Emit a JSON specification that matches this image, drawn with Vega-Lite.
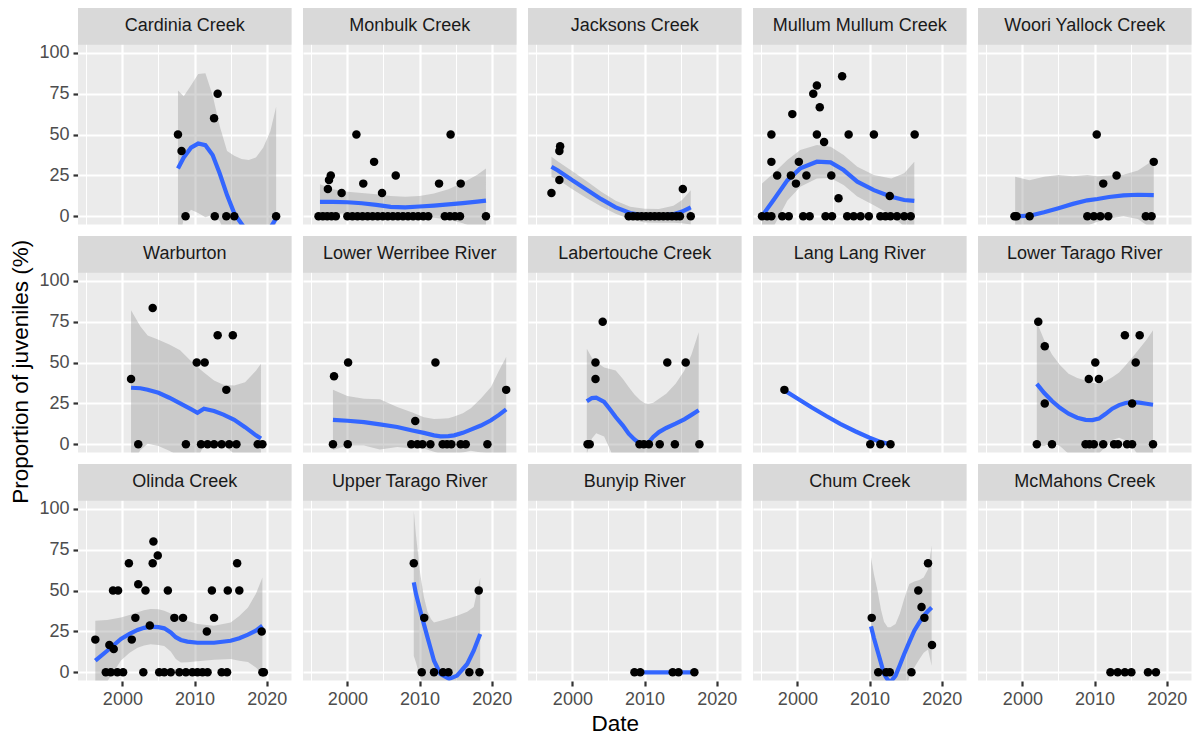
{
  "$schema": "https://vega.github.io/schema/vega-lite/v6.json",
  "padding": {"left": 10, "top": 8, "right": 3, "bottom": 3},
  "background": "#FFFFFF",
  "config": {
    "font": "Liberation Sans",
    "view": {"fill": "#EBEBEB", "stroke": null},
    "axis": {
      "domain": false,
      "gridColor": "#FFFFFF",
      "labelFontSize": 18,
      "labelColor": "#4D4D4D",
      "tickColor": "#333333",
      "tickWidth": 2.2,
      "tickSize": 5,
      "labelPadding": 4,
      "title": null
    }
  },
  "title": {
    "text": "Proportion of juveniles (%)",
    "orient": "left",
    "anchor": "middle",
    "fontSize": 22.5,
    "fontWeight": "normal",
    "color": "#000000",
    "offset": 6
  },
  "vconcat": [
    {
      "title": {
        "text": "Date",
        "orient": "bottom",
        "anchor": "middle",
        "fontSize": 22.5,
        "fontWeight": "normal",
        "color": "#000000",
        "offset": 5
      },
      "data": {"values": [
        {"river": "Cardinia Creek", "kind": "obs", "year": 2007.7, "pct": 50},
        {"river": "Cardinia Creek", "kind": "obs", "year": 2008.2, "pct": 40},
        {"river": "Cardinia Creek", "kind": "obs", "year": 2008.75, "pct": 0},
        {"river": "Cardinia Creek", "kind": "obs", "year": 2012.7, "pct": 60},
        {"river": "Cardinia Creek", "kind": "obs", "year": 2013.2, "pct": 75},
        {"river": "Cardinia Creek", "kind": "obs", "year": 2012.8, "pct": 0},
        {"river": "Cardinia Creek", "kind": "obs", "year": 2014.4, "pct": 0},
        {"river": "Cardinia Creek", "kind": "obs", "year": 2015.5, "pct": 0},
        {"river": "Cardinia Creek", "kind": "obs", "year": 2021.3, "pct": 0},
        {"river": "Cardinia Creek", "kind": "fit", "year": 2007.7, "pct": 29.3, "lo": -18.4, "hi": 77},
        {"river": "Cardinia Creek", "kind": "fit", "year": 2008.5, "pct": 36, "lo": -1.5, "hi": 73.5},
        {"river": "Cardinia Creek", "kind": "fit", "year": 2009.5, "pct": 42, "lo": 4, "hi": 80},
        {"river": "Cardinia Creek", "kind": "fit", "year": 2010.5, "pct": 44.5, "lo": 2, "hi": 87},
        {"river": "Cardinia Creek", "kind": "fit", "year": 2011.5, "pct": 43.5, "lo": -0.5, "hi": 87.5},
        {"river": "Cardinia Creek", "kind": "fit", "year": 2012.5, "pct": 37.5, "lo": 1, "hi": 74},
        {"river": "Cardinia Creek", "kind": "fit", "year": 2013.5, "pct": 26, "lo": -3, "hi": 55},
        {"river": "Cardinia Creek", "kind": "fit", "year": 2014.5, "pct": 13, "lo": -14, "hi": 40},
        {"river": "Cardinia Creek", "kind": "fit", "year": 2015.5, "pct": 1.8, "lo": -33.4, "hi": 37},
        {"river": "Cardinia Creek", "kind": "fit", "year": 2016.5, "pct": -4.5, "lo": -44, "hi": 35},
        {"river": "Cardinia Creek", "kind": "fit", "year": 2017.5, "pct": -11, "lo": -56.5, "hi": 34.5},
        {"river": "Cardinia Creek", "kind": "fit", "year": 2018.5, "pct": -15, "lo": -66, "hi": 36},
        {"river": "Cardinia Creek", "kind": "fit", "year": 2019.5, "pct": -13, "lo": -68, "hi": 42},
        {"river": "Cardinia Creek", "kind": "fit", "year": 2020.5, "pct": -7, "lo": -66, "hi": 52},
        {"river": "Cardinia Creek", "kind": "fit", "year": 2021.3, "pct": -1.2, "lo": -69.4, "hi": 67},

        {"river": "Monbulk Creek", "kind": "obs", "year": 2001.25, "pct": 50},
        {"river": "Monbulk Creek", "kind": "obs", "year": 2014.3, "pct": 50},
        {"river": "Monbulk Creek", "kind": "obs", "year": 2003.7, "pct": 33.3},
        {"river": "Monbulk Creek", "kind": "obs", "year": 2006.7, "pct": 25},
        {"river": "Monbulk Creek", "kind": "obs", "year": 1997.7, "pct": 25},
        {"river": "Monbulk Creek", "kind": "obs", "year": 1997.45, "pct": 22.2},
        {"river": "Monbulk Creek", "kind": "obs", "year": 1997.3, "pct": 16.7},
        {"river": "Monbulk Creek", "kind": "obs", "year": 1999.2, "pct": 14.3},
        {"river": "Monbulk Creek", "kind": "obs", "year": 2002.2, "pct": 20},
        {"river": "Monbulk Creek", "kind": "obs", "year": 2004.8, "pct": 14.3},
        {"river": "Monbulk Creek", "kind": "obs", "year": 2012.7, "pct": 20},
        {"river": "Monbulk Creek", "kind": "obs", "year": 2015.7, "pct": 20},
        {"river": "Monbulk Creek", "kind": "obs", "year": 1996.0, "pct": 0},
        {"river": "Monbulk Creek", "kind": "obs", "year": 1996.6, "pct": 0},
        {"river": "Monbulk Creek", "kind": "obs", "year": 1997.2, "pct": 0},
        {"river": "Monbulk Creek", "kind": "obs", "year": 1997.8, "pct": 0},
        {"river": "Monbulk Creek", "kind": "obs", "year": 1998.4, "pct": 0},
        {"river": "Monbulk Creek", "kind": "obs", "year": 2000.0, "pct": 0},
        {"river": "Monbulk Creek", "kind": "obs", "year": 2000.7, "pct": 0},
        {"river": "Monbulk Creek", "kind": "obs", "year": 2001.4, "pct": 0},
        {"river": "Monbulk Creek", "kind": "obs", "year": 2002.1, "pct": 0},
        {"river": "Monbulk Creek", "kind": "obs", "year": 2002.8, "pct": 0},
        {"river": "Monbulk Creek", "kind": "obs", "year": 2003.5, "pct": 0},
        {"river": "Monbulk Creek", "kind": "obs", "year": 2004.2, "pct": 0},
        {"river": "Monbulk Creek", "kind": "obs", "year": 2004.9, "pct": 0},
        {"river": "Monbulk Creek", "kind": "obs", "year": 2005.6, "pct": 0},
        {"river": "Monbulk Creek", "kind": "obs", "year": 2006.3, "pct": 0},
        {"river": "Monbulk Creek", "kind": "obs", "year": 2007.0, "pct": 0},
        {"river": "Monbulk Creek", "kind": "obs", "year": 2007.7, "pct": 0},
        {"river": "Monbulk Creek", "kind": "obs", "year": 2008.4, "pct": 0},
        {"river": "Monbulk Creek", "kind": "obs", "year": 2009.1, "pct": 0},
        {"river": "Monbulk Creek", "kind": "obs", "year": 2009.8, "pct": 0},
        {"river": "Monbulk Creek", "kind": "obs", "year": 2010.5, "pct": 0},
        {"river": "Monbulk Creek", "kind": "obs", "year": 2011.2, "pct": 0},
        {"river": "Monbulk Creek", "kind": "obs", "year": 2013.5, "pct": 0},
        {"river": "Monbulk Creek", "kind": "obs", "year": 2014.2, "pct": 0},
        {"river": "Monbulk Creek", "kind": "obs", "year": 2014.9, "pct": 0},
        {"river": "Monbulk Creek", "kind": "obs", "year": 2015.6, "pct": 0},
        {"river": "Monbulk Creek", "kind": "obs", "year": 2019.2, "pct": 0},
        {"river": "Monbulk Creek", "kind": "fit", "year": 1996.2, "pct": 8.8, "lo": -2, "hi": 19.6},
        {"river": "Monbulk Creek", "kind": "fit", "year": 1998, "pct": 8.8, "lo": 1.1, "hi": 16.5},
        {"river": "Monbulk Creek", "kind": "fit", "year": 2000, "pct": 8.6, "lo": 2.2, "hi": 15},
        {"river": "Monbulk Creek", "kind": "fit", "year": 2002, "pct": 8, "lo": 1.7, "hi": 14.3},
        {"river": "Monbulk Creek", "kind": "fit", "year": 2004, "pct": 7, "lo": 0.5, "hi": 13.5},
        {"river": "Monbulk Creek", "kind": "fit", "year": 2006, "pct": 5.8, "lo": -0.9, "hi": 12.5},
        {"river": "Monbulk Creek", "kind": "fit", "year": 2008, "pct": 5.5, "lo": -1, "hi": 12},
        {"river": "Monbulk Creek", "kind": "fit", "year": 2010, "pct": 6, "lo": -0.5, "hi": 12.5},
        {"river": "Monbulk Creek", "kind": "fit", "year": 2012, "pct": 6.6, "lo": -0.8, "hi": 14},
        {"river": "Monbulk Creek", "kind": "fit", "year": 2014, "pct": 7.3, "lo": -1.9, "hi": 16.5},
        {"river": "Monbulk Creek", "kind": "fit", "year": 2016, "pct": 8.1, "lo": -4.3, "hi": 20.5},
        {"river": "Monbulk Creek", "kind": "fit", "year": 2018, "pct": 9, "lo": -7.5, "hi": 25.5},
        {"river": "Monbulk Creek", "kind": "fit", "year": 2019.2, "pct": 9.6, "lo": -10.1, "hi": 29.3},

        {"river": "Jacksons Creek", "kind": "obs", "year": 1997.1, "pct": 14.3},
        {"river": "Jacksons Creek", "kind": "obs", "year": 1998.2, "pct": 22.2},
        {"river": "Jacksons Creek", "kind": "obs", "year": 1998.2, "pct": 40},
        {"river": "Jacksons Creek", "kind": "obs", "year": 1998.3, "pct": 42.9},
        {"river": "Jacksons Creek", "kind": "obs", "year": 2015.3, "pct": 16.7},
        {"river": "Jacksons Creek", "kind": "obs", "year": 2007.8, "pct": 0},
        {"river": "Jacksons Creek", "kind": "obs", "year": 2008.4, "pct": 0},
        {"river": "Jacksons Creek", "kind": "obs", "year": 2009.0, "pct": 0},
        {"river": "Jacksons Creek", "kind": "obs", "year": 2009.6, "pct": 0},
        {"river": "Jacksons Creek", "kind": "obs", "year": 2010.2, "pct": 0},
        {"river": "Jacksons Creek", "kind": "obs", "year": 2010.8, "pct": 0},
        {"river": "Jacksons Creek", "kind": "obs", "year": 2011.4, "pct": 0},
        {"river": "Jacksons Creek", "kind": "obs", "year": 2012.0, "pct": 0},
        {"river": "Jacksons Creek", "kind": "obs", "year": 2012.6, "pct": 0},
        {"river": "Jacksons Creek", "kind": "obs", "year": 2013.2, "pct": 0},
        {"river": "Jacksons Creek", "kind": "obs", "year": 2013.8, "pct": 0},
        {"river": "Jacksons Creek", "kind": "obs", "year": 2014.4, "pct": 0},
        {"river": "Jacksons Creek", "kind": "obs", "year": 2014.9, "pct": 0},
        {"river": "Jacksons Creek", "kind": "obs", "year": 2016.4, "pct": 0},
        {"river": "Jacksons Creek", "kind": "fit", "year": 1997.1, "pct": 30.3, "lo": 24.1, "hi": 36.5},
        {"river": "Jacksons Creek", "kind": "fit", "year": 1998, "pct": 28, "lo": 22.5, "hi": 33.5},
        {"river": "Jacksons Creek", "kind": "fit", "year": 2000, "pct": 22, "lo": 16.5, "hi": 27.5},
        {"river": "Jacksons Creek", "kind": "fit", "year": 2002, "pct": 16.3, "lo": 11.1, "hi": 21.5},
        {"river": "Jacksons Creek", "kind": "fit", "year": 2004, "pct": 10.5, "lo": 6, "hi": 15},
        {"river": "Jacksons Creek", "kind": "fit", "year": 2006, "pct": 5.5, "lo": 1.5, "hi": 9.5},
        {"river": "Jacksons Creek", "kind": "fit", "year": 2008, "pct": 2, "lo": -1.8, "hi": 5.8},
        {"river": "Jacksons Creek", "kind": "fit", "year": 2010, "pct": 0.4, "lo": -3.8, "hi": 4.6},
        {"river": "Jacksons Creek", "kind": "fit", "year": 2012, "pct": 0.3, "lo": -3.9, "hi": 4.5},
        {"river": "Jacksons Creek", "kind": "fit", "year": 2014, "pct": 1.3, "lo": -3.9, "hi": 6.5},
        {"river": "Jacksons Creek", "kind": "fit", "year": 2015.2, "pct": 2.9, "lo": -4.2, "hi": 10},
        {"river": "Jacksons Creek", "kind": "fit", "year": 2016.4, "pct": 5.5, "lo": -5, "hi": 16},

        {"river": "Mullum Mullum Creek", "kind": "obs", "year": 2006.2, "pct": 85.7},
        {"river": "Mullum Mullum Creek", "kind": "obs", "year": 2002.7, "pct": 80},
        {"river": "Mullum Mullum Creek", "kind": "obs", "year": 2002.2, "pct": 75},
        {"river": "Mullum Mullum Creek", "kind": "obs", "year": 2003.1, "pct": 66.7},
        {"river": "Mullum Mullum Creek", "kind": "obs", "year": 1999.3, "pct": 62.5},
        {"river": "Mullum Mullum Creek", "kind": "obs", "year": 1996.4, "pct": 50},
        {"river": "Mullum Mullum Creek", "kind": "obs", "year": 2002.7, "pct": 50},
        {"river": "Mullum Mullum Creek", "kind": "obs", "year": 2007.1, "pct": 50},
        {"river": "Mullum Mullum Creek", "kind": "obs", "year": 2010.6, "pct": 50},
        {"river": "Mullum Mullum Creek", "kind": "obs", "year": 2016.25, "pct": 50},
        {"river": "Mullum Mullum Creek", "kind": "obs", "year": 2003.7, "pct": 45.5},
        {"river": "Mullum Mullum Creek", "kind": "obs", "year": 1996.4, "pct": 33.3},
        {"river": "Mullum Mullum Creek", "kind": "obs", "year": 2000.2, "pct": 33.3},
        {"river": "Mullum Mullum Creek", "kind": "obs", "year": 1997.2, "pct": 25},
        {"river": "Mullum Mullum Creek", "kind": "obs", "year": 1999.1, "pct": 25},
        {"river": "Mullum Mullum Creek", "kind": "obs", "year": 2001.25, "pct": 25},
        {"river": "Mullum Mullum Creek", "kind": "obs", "year": 2004.7, "pct": 25},
        {"river": "Mullum Mullum Creek", "kind": "obs", "year": 1999.8, "pct": 20},
        {"river": "Mullum Mullum Creek", "kind": "obs", "year": 2005.7, "pct": 11.1},
        {"river": "Mullum Mullum Creek", "kind": "obs", "year": 2012.8, "pct": 12.5},
        {"river": "Mullum Mullum Creek", "kind": "obs", "year": 1995.1, "pct": 0},
        {"river": "Mullum Mullum Creek", "kind": "obs", "year": 1995.8, "pct": 0},
        {"river": "Mullum Mullum Creek", "kind": "obs", "year": 1996.4, "pct": 0},
        {"river": "Mullum Mullum Creek", "kind": "obs", "year": 1997.9, "pct": 0},
        {"river": "Mullum Mullum Creek", "kind": "obs", "year": 1998.8, "pct": 0},
        {"river": "Mullum Mullum Creek", "kind": "obs", "year": 2000.8, "pct": 0},
        {"river": "Mullum Mullum Creek", "kind": "obs", "year": 2001.7, "pct": 0},
        {"river": "Mullum Mullum Creek", "kind": "obs", "year": 2003.9, "pct": 0},
        {"river": "Mullum Mullum Creek", "kind": "obs", "year": 2004.8, "pct": 0},
        {"river": "Mullum Mullum Creek", "kind": "obs", "year": 2006.9, "pct": 0},
        {"river": "Mullum Mullum Creek", "kind": "obs", "year": 2007.8, "pct": 0},
        {"river": "Mullum Mullum Creek", "kind": "obs", "year": 2008.75, "pct": 0},
        {"river": "Mullum Mullum Creek", "kind": "obs", "year": 2009.9, "pct": 0},
        {"river": "Mullum Mullum Creek", "kind": "obs", "year": 2011.5, "pct": 0},
        {"river": "Mullum Mullum Creek", "kind": "obs", "year": 2012.2, "pct": 0},
        {"river": "Mullum Mullum Creek", "kind": "obs", "year": 2012.9, "pct": 0},
        {"river": "Mullum Mullum Creek", "kind": "obs", "year": 2013.8, "pct": 0},
        {"river": "Mullum Mullum Creek", "kind": "obs", "year": 2014.8, "pct": 0},
        {"river": "Mullum Mullum Creek", "kind": "obs", "year": 2015.7, "pct": 0},
        {"river": "Mullum Mullum Creek", "kind": "fit", "year": 1995.1, "pct": 0.2, "lo": -19.6, "hi": 20},
        {"river": "Mullum Mullum Creek", "kind": "fit", "year": 1996.7, "pct": 10, "lo": -6.3, "hi": 26.3},
        {"river": "Mullum Mullum Creek", "kind": "fit", "year": 1998.6, "pct": 22, "lo": 9.6, "hi": 34.4},
        {"river": "Mullum Mullum Creek", "kind": "fit", "year": 2000.4, "pct": 29.3, "lo": 18.1, "hi": 40.5},
        {"river": "Mullum Mullum Creek", "kind": "fit", "year": 2002.7, "pct": 33.4, "lo": 23.2, "hi": 43.6},
        {"river": "Mullum Mullum Creek", "kind": "fit", "year": 2004.6, "pct": 33, "lo": 23.4, "hi": 42.6},
        {"river": "Mullum Mullum Creek", "kind": "fit", "year": 2006.4, "pct": 28.3, "lo": 19.1, "hi": 37.5},
        {"river": "Mullum Mullum Creek", "kind": "fit", "year": 2008.3, "pct": 21.2, "lo": 12.1, "hi": 30.3},
        {"river": "Mullum Mullum Creek", "kind": "fit", "year": 2010.6, "pct": 16, "lo": 6.7, "hi": 25.3},
        {"river": "Mullum Mullum Creek", "kind": "fit", "year": 2013, "pct": 12, "lo": 0.8, "hi": 23.2},
        {"river": "Mullum Mullum Creek", "kind": "fit", "year": 2014.8, "pct": 10, "lo": -6.3, "hi": 26.3},
        {"river": "Mullum Mullum Creek", "kind": "fit", "year": 2016.2, "pct": 9.4, "lo": -14.6, "hi": 33.4},

        {"river": "Woori Yallock Creek", "kind": "obs", "year": 2010.3, "pct": 50},
        {"river": "Woori Yallock Creek", "kind": "obs", "year": 2018.2, "pct": 33.3},
        {"river": "Woori Yallock Creek", "kind": "obs", "year": 2013.05, "pct": 25},
        {"river": "Woori Yallock Creek", "kind": "obs", "year": 2011.2, "pct": 20},
        {"river": "Woori Yallock Creek", "kind": "obs", "year": 1998.9, "pct": 0},
        {"river": "Woori Yallock Creek", "kind": "obs", "year": 1999.2, "pct": 0},
        {"river": "Woori Yallock Creek", "kind": "obs", "year": 2001.0, "pct": 0},
        {"river": "Woori Yallock Creek", "kind": "obs", "year": 2009.0, "pct": 0},
        {"river": "Woori Yallock Creek", "kind": "obs", "year": 2009.9, "pct": 0},
        {"river": "Woori Yallock Creek", "kind": "obs", "year": 2010.8, "pct": 0},
        {"river": "Woori Yallock Creek", "kind": "obs", "year": 2011.9, "pct": 0},
        {"river": "Woori Yallock Creek", "kind": "obs", "year": 2017.1, "pct": 0},
        {"river": "Woori Yallock Creek", "kind": "obs", "year": 2017.9, "pct": 0},
        {"river": "Woori Yallock Creek", "kind": "fit", "year": 1999, "pct": 0, "lo": -24.2, "hi": 24.2},
        {"river": "Woori Yallock Creek", "kind": "fit", "year": 2001, "pct": 0.4, "lo": -21.2, "hi": 22},
        {"river": "Woori Yallock Creek", "kind": "fit", "year": 2003, "pct": 2.5, "lo": -19.2, "hi": 24.2},
        {"river": "Woori Yallock Creek", "kind": "fit", "year": 2005, "pct": 5, "lo": -15.3, "hi": 25.3},
        {"river": "Woori Yallock Creek", "kind": "fit", "year": 2007, "pct": 7.6, "lo": -9.3, "hi": 24.5},
        {"river": "Woori Yallock Creek", "kind": "fit", "year": 2009, "pct": 9.8, "lo": -5.7, "hi": 25.3},
        {"river": "Woori Yallock Creek", "kind": "fit", "year": 2010.4, "pct": 10.6, "lo": -3.3, "hi": 24.5},
        {"river": "Woori Yallock Creek", "kind": "fit", "year": 2012, "pct": 11.8, "lo": -1.4, "hi": 25},
        {"river": "Woori Yallock Creek", "kind": "fit", "year": 2014, "pct": 12.8, "lo": 0.1, "hi": 25.5},
        {"river": "Woori Yallock Creek", "kind": "fit", "year": 2016, "pct": 13.2, "lo": -1.6, "hi": 28},
        {"river": "Woori Yallock Creek", "kind": "fit", "year": 2018.2, "pct": 13, "lo": -8.4, "hi": 34.4},

        {"river": "Warburton", "kind": "obs", "year": 2004.2, "pct": 83.3},
        {"river": "Warburton", "kind": "obs", "year": 2001.2, "pct": 40},
        {"river": "Warburton", "kind": "obs", "year": 2010.3, "pct": 50},
        {"river": "Warburton", "kind": "obs", "year": 2011.4, "pct": 50},
        {"river": "Warburton", "kind": "obs", "year": 2013.2, "pct": 66.7},
        {"river": "Warburton", "kind": "obs", "year": 2015.3, "pct": 66.7},
        {"river": "Warburton", "kind": "obs", "year": 2014.4, "pct": 33.3},
        {"river": "Warburton", "kind": "obs", "year": 2002.2, "pct": 0},
        {"river": "Warburton", "kind": "obs", "year": 2008.8, "pct": 0},
        {"river": "Warburton", "kind": "obs", "year": 2010.9, "pct": 0},
        {"river": "Warburton", "kind": "obs", "year": 2011.8, "pct": 0},
        {"river": "Warburton", "kind": "obs", "year": 2012.7, "pct": 0},
        {"river": "Warburton", "kind": "obs", "year": 2013.75, "pct": 0},
        {"river": "Warburton", "kind": "obs", "year": 2014.8, "pct": 0},
        {"river": "Warburton", "kind": "obs", "year": 2015.8, "pct": 0},
        {"river": "Warburton", "kind": "obs", "year": 2018.75, "pct": 0},
        {"river": "Warburton", "kind": "obs", "year": 2019.4, "pct": 0},
        {"river": "Warburton", "kind": "fit", "year": 2001.2, "pct": 34.6, "lo": -12.8, "hi": 82},
        {"river": "Warburton", "kind": "fit", "year": 2002.5, "pct": 34.3, "lo": -3.4, "hi": 72},
        {"river": "Warburton", "kind": "fit", "year": 2003.5, "pct": 33.4, "lo": 0.3, "hi": 66.5},
        {"river": "Warburton", "kind": "fit", "year": 2005, "pct": 31.5, "lo": -1, "hi": 64},
        {"river": "Warburton", "kind": "fit", "year": 2006.5, "pct": 28.5, "lo": -4, "hi": 61},
        {"river": "Warburton", "kind": "fit", "year": 2008, "pct": 25, "lo": -7.5, "hi": 57.5},
        {"river": "Warburton", "kind": "fit", "year": 2009.5, "pct": 21.5, "lo": -8, "hi": 51},
        {"river": "Warburton", "kind": "fit", "year": 2010.4, "pct": 19.3, "lo": -8.7, "hi": 47.3},
        {"river": "Warburton", "kind": "fit", "year": 2011.3, "pct": 21.8, "lo": -0.4, "hi": 44},
        {"river": "Warburton", "kind": "fit", "year": 2012.7, "pct": 20.4, "lo": 1.8, "hi": 39},
        {"river": "Warburton", "kind": "fit", "year": 2014, "pct": 18.2, "lo": -0.1, "hi": 36.5},
        {"river": "Warburton", "kind": "fit", "year": 2015.5, "pct": 15, "lo": -6, "hi": 36},
        {"river": "Warburton", "kind": "fit", "year": 2017, "pct": 10.5, "lo": -17, "hi": 38},
        {"river": "Warburton", "kind": "fit", "year": 2018.5, "pct": 5.5, "lo": -34, "hi": 45},
        {"river": "Warburton", "kind": "fit", "year": 2019.2, "pct": 3.5, "lo": -42.3, "hi": 49.3},

        {"river": "Lower Werribee River", "kind": "obs", "year": 1998.15, "pct": 41.7},
        {"river": "Lower Werribee River", "kind": "obs", "year": 2000.1, "pct": 50},
        {"river": "Lower Werribee River", "kind": "obs", "year": 2012.2, "pct": 50},
        {"river": "Lower Werribee River", "kind": "obs", "year": 2009.4, "pct": 14.3},
        {"river": "Lower Werribee River", "kind": "obs", "year": 2022.0, "pct": 33.3},
        {"river": "Lower Werribee River", "kind": "obs", "year": 1998.0, "pct": 0},
        {"river": "Lower Werribee River", "kind": "obs", "year": 2000.05, "pct": 0},
        {"river": "Lower Werribee River", "kind": "obs", "year": 2008.85, "pct": 0},
        {"river": "Lower Werribee River", "kind": "obs", "year": 2009.7, "pct": 0},
        {"river": "Lower Werribee River", "kind": "obs", "year": 2010.4, "pct": 0},
        {"river": "Lower Werribee River", "kind": "obs", "year": 2011.5, "pct": 0},
        {"river": "Lower Werribee River", "kind": "obs", "year": 2013.2, "pct": 0},
        {"river": "Lower Werribee River", "kind": "obs", "year": 2013.8, "pct": 0},
        {"river": "Lower Werribee River", "kind": "obs", "year": 2014.4, "pct": 0},
        {"river": "Lower Werribee River", "kind": "obs", "year": 2015.7, "pct": 0},
        {"river": "Lower Werribee River", "kind": "obs", "year": 2016.4, "pct": 0},
        {"river": "Lower Werribee River", "kind": "obs", "year": 2019.4, "pct": 0},
        {"river": "Lower Werribee River", "kind": "fit", "year": 1998, "pct": 15, "lo": -3.4, "hi": 33.4},
        {"river": "Lower Werribee River", "kind": "fit", "year": 2000, "pct": 14.4, "lo": -0.7, "hi": 29.5},
        {"river": "Lower Werribee River", "kind": "fit", "year": 2002.3, "pct": 13.6, "lo": -0.7, "hi": 27.9},
        {"river": "Lower Werribee River", "kind": "fit", "year": 2004.5, "pct": 12.2, "lo": -3.1, "hi": 27.5},
        {"river": "Lower Werribee River", "kind": "fit", "year": 2006.9, "pct": 10.6, "lo": -1.6, "hi": 22.8},
        {"river": "Lower Werribee River", "kind": "fit", "year": 2009, "pct": 8.5, "lo": -2.5, "hi": 19.5},
        {"river": "Lower Werribee River", "kind": "fit", "year": 2010.6, "pct": 7, "lo": -2.5, "hi": 16.5},
        {"river": "Lower Werribee River", "kind": "fit", "year": 2012, "pct": 5.5, "lo": -4.5, "hi": 15.5},
        {"river": "Lower Werribee River", "kind": "fit", "year": 2012.9, "pct": 4.9, "lo": -5.9, "hi": 15.7},
        {"river": "Lower Werribee River", "kind": "fit", "year": 2014, "pct": 5, "lo": -6, "hi": 16},
        {"river": "Lower Werribee River", "kind": "fit", "year": 2014.8, "pct": 5.5, "lo": -6, "hi": 17},
        {"river": "Lower Werribee River", "kind": "fit", "year": 2016, "pct": 7, "lo": -5, "hi": 19},
        {"river": "Lower Werribee River", "kind": "fit", "year": 2017.1, "pct": 9, "lo": -4, "hi": 22},
        {"river": "Lower Werribee River", "kind": "fit", "year": 2018.5, "pct": 11.5, "lo": -5, "hi": 28},
        {"river": "Lower Werribee River", "kind": "fit", "year": 2019.9, "pct": 14.7, "lo": -5.6, "hi": 35},
        {"river": "Lower Werribee River", "kind": "fit", "year": 2021, "pct": 18, "lo": -9, "hi": 45},
        {"river": "Lower Werribee River", "kind": "fit", "year": 2022, "pct": 21.4, "lo": -10.6, "hi": 53.4},

        {"river": "Labertouche Creek", "kind": "obs", "year": 2004.2, "pct": 75},
        {"river": "Labertouche Creek", "kind": "obs", "year": 2003.2, "pct": 50},
        {"river": "Labertouche Creek", "kind": "obs", "year": 2003.2, "pct": 40},
        {"river": "Labertouche Creek", "kind": "obs", "year": 2013.15, "pct": 50},
        {"river": "Labertouche Creek", "kind": "obs", "year": 2015.7, "pct": 50},
        {"river": "Labertouche Creek", "kind": "obs", "year": 2002.1, "pct": 0},
        {"river": "Labertouche Creek", "kind": "obs", "year": 2002.4, "pct": 0},
        {"river": "Labertouche Creek", "kind": "obs", "year": 2009.3, "pct": 0},
        {"river": "Labertouche Creek", "kind": "obs", "year": 2009.9, "pct": 0},
        {"river": "Labertouche Creek", "kind": "obs", "year": 2010.6, "pct": 0},
        {"river": "Labertouche Creek", "kind": "obs", "year": 2012.1, "pct": 0},
        {"river": "Labertouche Creek", "kind": "obs", "year": 2014.2, "pct": 0},
        {"river": "Labertouche Creek", "kind": "obs", "year": 2017.6, "pct": 0},
        {"river": "Labertouche Creek", "kind": "fit", "year": 2002, "pct": 26.3, "lo": -5.9, "hi": 58.5},
        {"river": "Labertouche Creek", "kind": "fit", "year": 2002.7, "pct": 28.3, "lo": 3.6, "hi": 53},
        {"river": "Labertouche Creek", "kind": "fit", "year": 2003.3, "pct": 28.5, "lo": 6.7, "hi": 50.3},
        {"river": "Labertouche Creek", "kind": "fit", "year": 2004.4, "pct": 25.9, "lo": 4.8, "hi": 47},
        {"river": "Labertouche Creek", "kind": "fit", "year": 2005.2, "pct": 21.5, "lo": -3, "hi": 46},
        {"river": "Labertouche Creek", "kind": "fit", "year": 2006, "pct": 16.7, "lo": -11.8, "hi": 45.2},
        {"river": "Labertouche Creek", "kind": "fit", "year": 2007, "pct": 11.5, "lo": -17, "hi": 40},
        {"river": "Labertouche Creek", "kind": "fit", "year": 2007.8, "pct": 6.5, "lo": -22, "hi": 35},
        {"river": "Labertouche Creek", "kind": "fit", "year": 2008.6, "pct": 3, "lo": -24.5, "hi": 30.5},
        {"river": "Labertouche Creek", "kind": "fit", "year": 2009.4, "pct": 0.4, "lo": -26.1, "hi": 26.9},
        {"river": "Labertouche Creek", "kind": "fit", "year": 2010.1, "pct": 0.2, "lo": -24.6, "hi": 25},
        {"river": "Labertouche Creek", "kind": "fit", "year": 2010.6, "pct": 1.4, "lo": -22, "hi": 24.8},
        {"river": "Labertouche Creek", "kind": "fit", "year": 2011.2, "pct": 4.5, "lo": -16.5, "hi": 25.5},
        {"river": "Labertouche Creek", "kind": "fit", "year": 2012, "pct": 7.5, "lo": -12.9, "hi": 27.9},
        {"river": "Labertouche Creek", "kind": "fit", "year": 2013, "pct": 10, "lo": -11, "hi": 31},
        {"river": "Labertouche Creek", "kind": "fit", "year": 2014.3, "pct": 12.6, "lo": -11.9, "hi": 37.1},
        {"river": "Labertouche Creek", "kind": "fit", "year": 2015.5, "pct": 15.3, "lo": -14.4, "hi": 45},
        {"river": "Labertouche Creek", "kind": "fit", "year": 2016.5, "pct": 18, "lo": -19, "hi": 55},
        {"river": "Labertouche Creek", "kind": "fit", "year": 2017.5, "pct": 20.8, "lo": -27, "hi": 68.6},

        {"river": "Lang Lang River", "kind": "obs", "year": 1998.2, "pct": 33.3},
        {"river": "Lang Lang River", "kind": "obs", "year": 2010.1, "pct": 0},
        {"river": "Lang Lang River", "kind": "obs", "year": 2011.5, "pct": 0},
        {"river": "Lang Lang River", "kind": "obs", "year": 2012.9, "pct": 0},
        {"river": "Lang Lang River", "kind": "fit", "year": 1998.2, "pct": 33},
        {"river": "Lang Lang River", "kind": "fit", "year": 2000, "pct": 28},
        {"river": "Lang Lang River", "kind": "fit", "year": 2002, "pct": 22.5},
        {"river": "Lang Lang River", "kind": "fit", "year": 2004, "pct": 17.3},
        {"river": "Lang Lang River", "kind": "fit", "year": 2006, "pct": 12.4},
        {"river": "Lang Lang River", "kind": "fit", "year": 2008, "pct": 8},
        {"river": "Lang Lang River", "kind": "fit", "year": 2010, "pct": 4},
        {"river": "Lang Lang River", "kind": "fit", "year": 2011.5, "pct": 1.5},
        {"river": "Lang Lang River", "kind": "fit", "year": 2012.9, "pct": 0},

        {"river": "Lower Tarago River", "kind": "obs", "year": 2002.2, "pct": 75},
        {"river": "Lower Tarago River", "kind": "obs", "year": 2003.1, "pct": 60},
        {"river": "Lower Tarago River", "kind": "obs", "year": 2010.1, "pct": 50},
        {"river": "Lower Tarago River", "kind": "obs", "year": 2015.7, "pct": 50},
        {"river": "Lower Tarago River", "kind": "obs", "year": 2014.2, "pct": 66.7},
        {"river": "Lower Tarago River", "kind": "obs", "year": 2016.25, "pct": 66.7},
        {"river": "Lower Tarago River", "kind": "obs", "year": 2009.2, "pct": 40},
        {"river": "Lower Tarago River", "kind": "obs", "year": 2010.6, "pct": 40},
        {"river": "Lower Tarago River", "kind": "obs", "year": 2003.1, "pct": 25},
        {"river": "Lower Tarago River", "kind": "obs", "year": 2015.2, "pct": 25},
        {"river": "Lower Tarago River", "kind": "obs", "year": 2002.0, "pct": 0},
        {"river": "Lower Tarago River", "kind": "obs", "year": 2004.1, "pct": 0},
        {"river": "Lower Tarago River", "kind": "obs", "year": 2008.75, "pct": 0},
        {"river": "Lower Tarago River", "kind": "obs", "year": 2009.3, "pct": 0},
        {"river": "Lower Tarago River", "kind": "obs", "year": 2009.9, "pct": 0},
        {"river": "Lower Tarago River", "kind": "obs", "year": 2011.2, "pct": 0},
        {"river": "Lower Tarago River", "kind": "obs", "year": 2012.7, "pct": 0},
        {"river": "Lower Tarago River", "kind": "obs", "year": 2013.25, "pct": 0},
        {"river": "Lower Tarago River", "kind": "obs", "year": 2014.5, "pct": 0},
        {"river": "Lower Tarago River", "kind": "obs", "year": 2015.2, "pct": 0},
        {"river": "Lower Tarago River", "kind": "obs", "year": 2018.1, "pct": 0},
        {"river": "Lower Tarago River", "kind": "fit", "year": 2002, "pct": 37, "lo": -0.7, "hi": 74.7},
        {"river": "Lower Tarago River", "kind": "fit", "year": 2003, "pct": 31.5, "lo": -1, "hi": 64},
        {"river": "Lower Tarago River", "kind": "fit", "year": 2004.1, "pct": 26.5, "lo": 1, "hi": 55},
        {"river": "Lower Tarago River", "kind": "fit", "year": 2005.2, "pct": 22.3, "lo": -1, "hi": 48.5},
        {"river": "Lower Tarago River", "kind": "fit", "year": 2006.4, "pct": 18.7, "lo": -5.8, "hi": 43.2},
        {"river": "Lower Tarago River", "kind": "fit", "year": 2007.6, "pct": 16.3, "lo": -7.9, "hi": 40.5},
        {"river": "Lower Tarago River", "kind": "fit", "year": 2008.75, "pct": 15, "lo": -9, "hi": 39},
        {"river": "Lower Tarago River", "kind": "fit", "year": 2009.7, "pct": 14.8, "lo": -8.1, "hi": 37.7},
        {"river": "Lower Tarago River", "kind": "fit", "year": 2010.6, "pct": 15.7, "lo": -5.6, "hi": 37},
        {"river": "Lower Tarago River", "kind": "fit", "year": 2011.5, "pct": 18.5, "lo": -1.5, "hi": 38.5},
        {"river": "Lower Tarago River", "kind": "fit", "year": 2012.45, "pct": 21.8, "lo": 2.6, "hi": 41},
        {"river": "Lower Tarago River", "kind": "fit", "year": 2013.4, "pct": 24, "lo": 4, "hi": 44},
        {"river": "Lower Tarago River", "kind": "fit", "year": 2014.3, "pct": 25.3, "lo": 2.3, "hi": 48.3},
        {"river": "Lower Tarago River", "kind": "fit", "year": 2015.2, "pct": 25.8, "lo": -1.4, "hi": 53},
        {"river": "Lower Tarago River", "kind": "fit", "year": 2016.2, "pct": 25.5, "lo": -7.5, "hi": 58.5},
        {"river": "Lower Tarago River", "kind": "fit", "year": 2017.2, "pct": 24.8, "lo": -14.4, "hi": 64},
        {"river": "Lower Tarago River", "kind": "fit", "year": 2018.1, "pct": 24.2, "lo": -21.3, "hi": 69.7},

        {"river": "Olinda Creek", "kind": "obs", "year": 1996.25, "pct": 20},
        {"river": "Olinda Creek", "kind": "obs", "year": 1998.2, "pct": 16.7},
        {"river": "Olinda Creek", "kind": "obs", "year": 1998.8, "pct": 14.3},
        {"river": "Olinda Creek", "kind": "obs", "year": 1998.7, "pct": 50},
        {"river": "Olinda Creek", "kind": "obs", "year": 1999.4, "pct": 50},
        {"river": "Olinda Creek", "kind": "obs", "year": 2000.9, "pct": 66.7},
        {"river": "Olinda Creek", "kind": "obs", "year": 2001.3, "pct": 20},
        {"river": "Olinda Creek", "kind": "obs", "year": 2001.8, "pct": 33.3},
        {"river": "Olinda Creek", "kind": "obs", "year": 2002.2, "pct": 53.8},
        {"river": "Olinda Creek", "kind": "obs", "year": 2003.2, "pct": 50},
        {"river": "Olinda Creek", "kind": "obs", "year": 2003.8, "pct": 28.6},
        {"river": "Olinda Creek", "kind": "obs", "year": 2004.2, "pct": 66.7},
        {"river": "Olinda Creek", "kind": "obs", "year": 2004.3, "pct": 80},
        {"river": "Olinda Creek", "kind": "obs", "year": 2004.9, "pct": 71.4},
        {"river": "Olinda Creek", "kind": "obs", "year": 2006.3, "pct": 50},
        {"river": "Olinda Creek", "kind": "obs", "year": 2007.2, "pct": 33.3},
        {"river": "Olinda Creek", "kind": "obs", "year": 2008.4, "pct": 33.3},
        {"river": "Olinda Creek", "kind": "obs", "year": 2011.7, "pct": 25},
        {"river": "Olinda Creek", "kind": "obs", "year": 2012.4, "pct": 50},
        {"river": "Olinda Creek", "kind": "obs", "year": 2012.7, "pct": 33.3},
        {"river": "Olinda Creek", "kind": "obs", "year": 2014.6, "pct": 50},
        {"river": "Olinda Creek", "kind": "obs", "year": 2015.9, "pct": 66.7},
        {"river": "Olinda Creek", "kind": "obs", "year": 2016.2, "pct": 50},
        {"river": "Olinda Creek", "kind": "obs", "year": 2019.3, "pct": 25},
        {"river": "Olinda Creek", "kind": "obs", "year": 2019.4, "pct": 0},
        {"river": "Olinda Creek", "kind": "obs", "year": 1997.7, "pct": 0},
        {"river": "Olinda Creek", "kind": "obs", "year": 1998.4, "pct": 0},
        {"river": "Olinda Creek", "kind": "obs", "year": 1999.3, "pct": 0},
        {"river": "Olinda Creek", "kind": "obs", "year": 2000.1, "pct": 0},
        {"river": "Olinda Creek", "kind": "obs", "year": 2002.9, "pct": 0},
        {"river": "Olinda Creek", "kind": "obs", "year": 2005.1, "pct": 0},
        {"river": "Olinda Creek", "kind": "obs", "year": 2005.8, "pct": 0},
        {"river": "Olinda Creek", "kind": "obs", "year": 2006.7, "pct": 0},
        {"river": "Olinda Creek", "kind": "obs", "year": 2007.9, "pct": 0},
        {"river": "Olinda Creek", "kind": "obs", "year": 2008.8, "pct": 0},
        {"river": "Olinda Creek", "kind": "obs", "year": 2009.7, "pct": 0},
        {"river": "Olinda Creek", "kind": "obs", "year": 2010.4, "pct": 0},
        {"river": "Olinda Creek", "kind": "obs", "year": 2011.1, "pct": 0},
        {"river": "Olinda Creek", "kind": "obs", "year": 2011.8, "pct": 0},
        {"river": "Olinda Creek", "kind": "obs", "year": 2013.75, "pct": 0},
        {"river": "Olinda Creek", "kind": "obs", "year": 2014.5, "pct": 0},
        {"river": "Olinda Creek", "kind": "obs", "year": 2019.6, "pct": 0},
        {"river": "Olinda Creek", "kind": "fit", "year": 1996.25, "pct": 7.1, "lo": -15, "hi": 31.6},
        {"river": "Olinda Creek", "kind": "fit", "year": 1997.9, "pct": 13.2, "lo": -5.6, "hi": 32},
        {"river": "Olinda Creek", "kind": "fit", "year": 1999.8, "pct": 20.4, "lo": 7.2, "hi": 33.6},
        {"river": "Olinda Creek", "kind": "fit", "year": 2001, "pct": 23.5, "lo": 12, "hi": 35},
        {"river": "Olinda Creek", "kind": "fit", "year": 2002.1, "pct": 25.9, "lo": 15.1, "hi": 36.7},
        {"river": "Olinda Creek", "kind": "fit", "year": 2003, "pct": 27.2, "lo": 16.4, "hi": 38},
        {"river": "Olinda Creek", "kind": "fit", "year": 2003.9, "pct": 27.9, "lo": 17.1, "hi": 38.7},
        {"river": "Olinda Creek", "kind": "fit", "year": 2005, "pct": 27.6, "lo": 16.7, "hi": 38.5},
        {"river": "Olinda Creek", "kind": "fit", "year": 2005.8, "pct": 26.9, "lo": 16.1, "hi": 37.7},
        {"river": "Olinda Creek", "kind": "fit", "year": 2006.7, "pct": 24.4, "lo": 12.8, "hi": 36},
        {"river": "Olinda Creek", "kind": "fit", "year": 2007.4, "pct": 21.5, "lo": 8.2, "hi": 34.8},
        {"river": "Olinda Creek", "kind": "fit", "year": 2008.1, "pct": 19.8, "lo": 6, "hi": 33.6},
        {"river": "Olinda Creek", "kind": "fit", "year": 2009, "pct": 18.8, "lo": 6.1, "hi": 31.5},
        {"river": "Olinda Creek", "kind": "fit", "year": 2010.4, "pct": 18.1, "lo": 6.7, "hi": 29.5},
        {"river": "Olinda Creek", "kind": "fit", "year": 2012.7, "pct": 18.1, "lo": 7.7, "hi": 28.5},
        {"river": "Olinda Creek", "kind": "fit", "year": 2015, "pct": 19.3, "lo": 8.1, "hi": 30.5},
        {"river": "Olinda Creek", "kind": "fit", "year": 2016.2, "pct": 20.8, "lo": 7.1, "hi": 34.5},
        {"river": "Olinda Creek", "kind": "fit", "year": 2017.4, "pct": 23, "lo": 6.3, "hi": 39.7},
        {"river": "Olinda Creek", "kind": "fit", "year": 2018.5, "pct": 25.5, "lo": 3, "hi": 48},
        {"river": "Olinda Creek", "kind": "fit", "year": 2019.4, "pct": 28.5, "lo": -1, "hi": 58},

        {"river": "Upper Tarago River", "kind": "obs", "year": 2009.2, "pct": 66.7},
        {"river": "Upper Tarago River", "kind": "obs", "year": 2010.65, "pct": 33.3},
        {"river": "Upper Tarago River", "kind": "obs", "year": 2018.2, "pct": 50},
        {"river": "Upper Tarago River", "kind": "obs", "year": 2010.3, "pct": 0},
        {"river": "Upper Tarago River", "kind": "obs", "year": 2012.0, "pct": 0},
        {"river": "Upper Tarago River", "kind": "obs", "year": 2013.25, "pct": 0},
        {"river": "Upper Tarago River", "kind": "obs", "year": 2014.0, "pct": 0},
        {"river": "Upper Tarago River", "kind": "obs", "year": 2016.9, "pct": 0},
        {"river": "Upper Tarago River", "kind": "obs", "year": 2018.3, "pct": 0},
        {"river": "Upper Tarago River", "kind": "fit", "year": 2009.2, "pct": 55, "lo": 10, "hi": 98.8},
        {"river": "Upper Tarago River", "kind": "fit", "year": 2009.5, "pct": 48, "lo": 6, "hi": 84},
        {"river": "Upper Tarago River", "kind": "fit", "year": 2010.1, "pct": 37.7, "lo": -4, "hi": 60},
        {"river": "Upper Tarago River", "kind": "fit", "year": 2010.6, "pct": 29.5, "lo": -9, "hi": 46},
        {"river": "Upper Tarago River", "kind": "fit", "year": 2011.1, "pct": 21.4, "lo": -13, "hi": 37},
        {"river": "Upper Tarago River", "kind": "fit", "year": 2011.6, "pct": 13.5, "lo": -16, "hi": 32.5},
        {"river": "Upper Tarago River", "kind": "fit", "year": 2012, "pct": 7.1, "lo": -18, "hi": 30.5},
        {"river": "Upper Tarago River", "kind": "fit", "year": 2012.9, "pct": -1, "lo": -22, "hi": 31.5},
        {"river": "Upper Tarago River", "kind": "fit", "year": 2014.1, "pct": -4, "lo": -26, "hi": 33},
        {"river": "Upper Tarago River", "kind": "fit", "year": 2015.2, "pct": -2, "lo": -24, "hi": 34.6},
        {"river": "Upper Tarago River", "kind": "fit", "year": 2016.6, "pct": 5.1, "lo": -22, "hi": 37},
        {"river": "Upper Tarago River", "kind": "fit", "year": 2017.5, "pct": 13.2, "lo": -14, "hi": 40},
        {"river": "Upper Tarago River", "kind": "fit", "year": 2018.4, "pct": 23.4, "lo": -11, "hi": 58},

        {"river": "Bunyip River", "kind": "obs", "year": 2008.6, "pct": 0},
        {"river": "Bunyip River", "kind": "obs", "year": 2009.4, "pct": 0},
        {"river": "Bunyip River", "kind": "obs", "year": 2013.9, "pct": 0},
        {"river": "Bunyip River", "kind": "obs", "year": 2014.7, "pct": 0},
        {"river": "Bunyip River", "kind": "obs", "year": 2016.9, "pct": 0},
        {"river": "Bunyip River", "kind": "fit", "year": 2008.6, "pct": 0},
        {"river": "Bunyip River", "kind": "fit", "year": 2016.9, "pct": 0},

        {"river": "Chum Creek", "kind": "obs", "year": 2010.3, "pct": 33.3},
        {"river": "Chum Creek", "kind": "obs", "year": 2018.1, "pct": 66.7},
        {"river": "Chum Creek", "kind": "obs", "year": 2016.75, "pct": 50},
        {"river": "Chum Creek", "kind": "obs", "year": 2017.2, "pct": 40},
        {"river": "Chum Creek", "kind": "obs", "year": 2017.6, "pct": 33.3},
        {"river": "Chum Creek", "kind": "obs", "year": 2018.65, "pct": 16.7},
        {"river": "Chum Creek", "kind": "obs", "year": 2011.2, "pct": 0},
        {"river": "Chum Creek", "kind": "obs", "year": 2012.3, "pct": 0},
        {"river": "Chum Creek", "kind": "obs", "year": 2012.8, "pct": 0},
        {"river": "Chum Creek", "kind": "obs", "year": 2015.8, "pct": 0},
        {"river": "Chum Creek", "kind": "fit", "year": 2010.2, "pct": 28.1, "lo": -3, "hi": 70.3},
        {"river": "Chum Creek", "kind": "fit", "year": 2010.6, "pct": 21, "lo": -10, "hi": 60},
        {"river": "Chum Creek", "kind": "fit", "year": 2011.1, "pct": 13.2, "lo": -20, "hi": 50},
        {"river": "Chum Creek", "kind": "fit", "year": 2011.6, "pct": 5.5, "lo": -25, "hi": 38},
        {"river": "Chum Creek", "kind": "fit", "year": 2012, "pct": -1, "lo": -30, "hi": 31},
        {"river": "Chum Creek", "kind": "fit", "year": 2012.5, "pct": -4.5, "lo": -35, "hi": 27.5},
        {"river": "Chum Creek", "kind": "fit", "year": 2012.9, "pct": -6, "lo": -38, "hi": 27.5},
        {"river": "Chum Creek", "kind": "fit", "year": 2013.6, "pct": -2, "lo": -33, "hi": 29.5},
        {"river": "Chum Creek", "kind": "fit", "year": 2014.2, "pct": 4.5, "lo": -26, "hi": 36},
        {"river": "Chum Creek", "kind": "fit", "year": 2014.8, "pct": 11.2, "lo": -15, "hi": 45},
        {"river": "Chum Creek", "kind": "fit", "year": 2015.5, "pct": 18.5, "lo": -3, "hi": 54},
        {"river": "Chum Creek", "kind": "fit", "year": 2016.2, "pct": 25.5, "lo": 3, "hi": 55.6},
        {"river": "Chum Creek", "kind": "fit", "year": 2016.9, "pct": 30.5, "lo": 8, "hi": 56.5},
        {"river": "Chum Creek", "kind": "fit", "year": 2017.5, "pct": 34.6, "lo": 12, "hi": 58},
        {"river": "Chum Creek", "kind": "fit", "year": 2018.1, "pct": 37.5, "lo": 14, "hi": 63},
        {"river": "Chum Creek", "kind": "fit", "year": 2018.6, "pct": 39.7, "lo": 4, "hi": 77.4},

        {"river": "McMahons Creek", "kind": "obs", "year": 2012.2, "pct": 0},
        {"river": "McMahons Creek", "kind": "obs", "year": 2013.2, "pct": 0},
        {"river": "McMahons Creek", "kind": "obs", "year": 2014.2, "pct": 0},
        {"river": "McMahons Creek", "kind": "obs", "year": 2015.1, "pct": 0},
        {"river": "McMahons Creek", "kind": "obs", "year": 2017.4, "pct": 0},
        {"river": "McMahons Creek", "kind": "obs", "year": 2018.5, "pct": 0}
      ]},
      "facet": {
        "field": "river",
        "type": "nominal",
        "sort": ["Cardinia Creek", "Monbulk Creek", "Jacksons Creek", "Mullum Mullum Creek", "Woori Yallock Creek", "Warburton", "Lower Werribee River", "Labertouche Creek", "Lang Lang River", "Lower Tarago River", "Olinda Creek", "Upper Tarago River", "Bunyip River", "Chum Creek", "McMahons Creek"],
        "header": {
          "title": null,
          "labelExpr": "''",
          "labelFontSize": 0,
          "labelPadding": 0
        }
      },
      "columns": 5,
      "spacing": 11,
      "spec": {
        "width": 213.5,
        "height": 216.5,
        "layer": [
          {
            "transform": [{"filter": "datum.kind === 'fit' && isValid(datum.lo)"}],
            "mark": {"type": "area", "fill": "#999999", "opacity": 0.4, "clip": true},
            "encoding": {
              "x": {
                "field": "year", "type": "quantitative",
                "scale": {"domain": [1993.85, 2023.43], "nice": false, "zero": false},
                "axis": {
                  "values": [1995, 2000, 2005, 2010, 2015, 2020],
                  "format": "d",
                  "labelExpr": "datum.value % 10 === 0 ? datum.label : ''",
                  "labelOverlap": false,
                  "labelFlush": false,
                  "gridWidth": {"condition": {"test": "datum.value % 10 === 0", "value": 2.2}, "value": 1.1},
                  "tickOpacity": {"condition": {"test": "datum.value % 10 === 0", "value": 1}, "value": 0}
                }
              },
              "y": {
                "field": "lo", "type": "quantitative",
                "scale": {"domain": [-5, 127.4], "nice": false, "zero": false},
                "axis": {
                  "values": [0, 12.5, 25, 37.5, 50, 62.5, 75, 87.5, 100],
                  "labelExpr": "datum.value % 25 === 0 ? datum.label : ''",
                  "labelOverlap": false,
                  "labelFlush": false,
                  "gridWidth": {"condition": {"test": "datum.value % 25 === 0", "value": 2.2}, "value": 1.1},
                  "tickOpacity": {"condition": {"test": "datum.value % 25 === 0", "value": 1}, "value": 0}
                }
              },
              "y2": {"field": "hi"}
            }
          },
          {
            "transform": [{"filter": "datum.kind === 'fit'"}],
            "mark": {"type": "line", "color": "#3366FF", "strokeWidth": 4.2, "clip": true},
            "encoding": {
              "x": {"field": "year", "type": "quantitative"},
              "y": {"field": "pct", "type": "quantitative"}
            }
          },
          {
            "transform": [{"filter": "datum.kind === 'obs'"}],
            "mark": {"type": "circle", "color": "#000000", "opacity": 1, "size": 72},
            "encoding": {
              "x": {"field": "year", "type": "quantitative"},
              "y": {"field": "pct", "type": "quantitative"}
            }
          },
          {
            "transform": [
              {"filter": "datum.kind === 'obs'"},
              {"aggregate": [{"op": "count", "as": "n"}], "groupby": ["river"]}
            ],
            "mark": {"type": "rect", "fill": "#D9D9D9"},
            "encoding": {
              "x": {"datum": 1993.85, "type": "quantitative"},
              "x2": {"datum": 2023.43},
              "y": {"datum": 105, "type": "quantitative"},
              "y2": {"datum": 127.4}
            }
          },
          {
            "transform": [
              {"filter": "datum.kind === 'obs'"},
              {"aggregate": [{"op": "count", "as": "n"}], "groupby": ["river"]}
            ],
            "mark": {"type": "text", "fontSize": 18, "color": "#1A1A1A", "align": "center", "baseline": "middle"},
            "encoding": {
              "x": {"datum": 2008.64, "type": "quantitative"},
              "y": {"datum": 116.2, "type": "quantitative"},
              "text": {"field": "river", "type": "nominal"}
            }
          }
        ]
      }
    }
  ]
}
